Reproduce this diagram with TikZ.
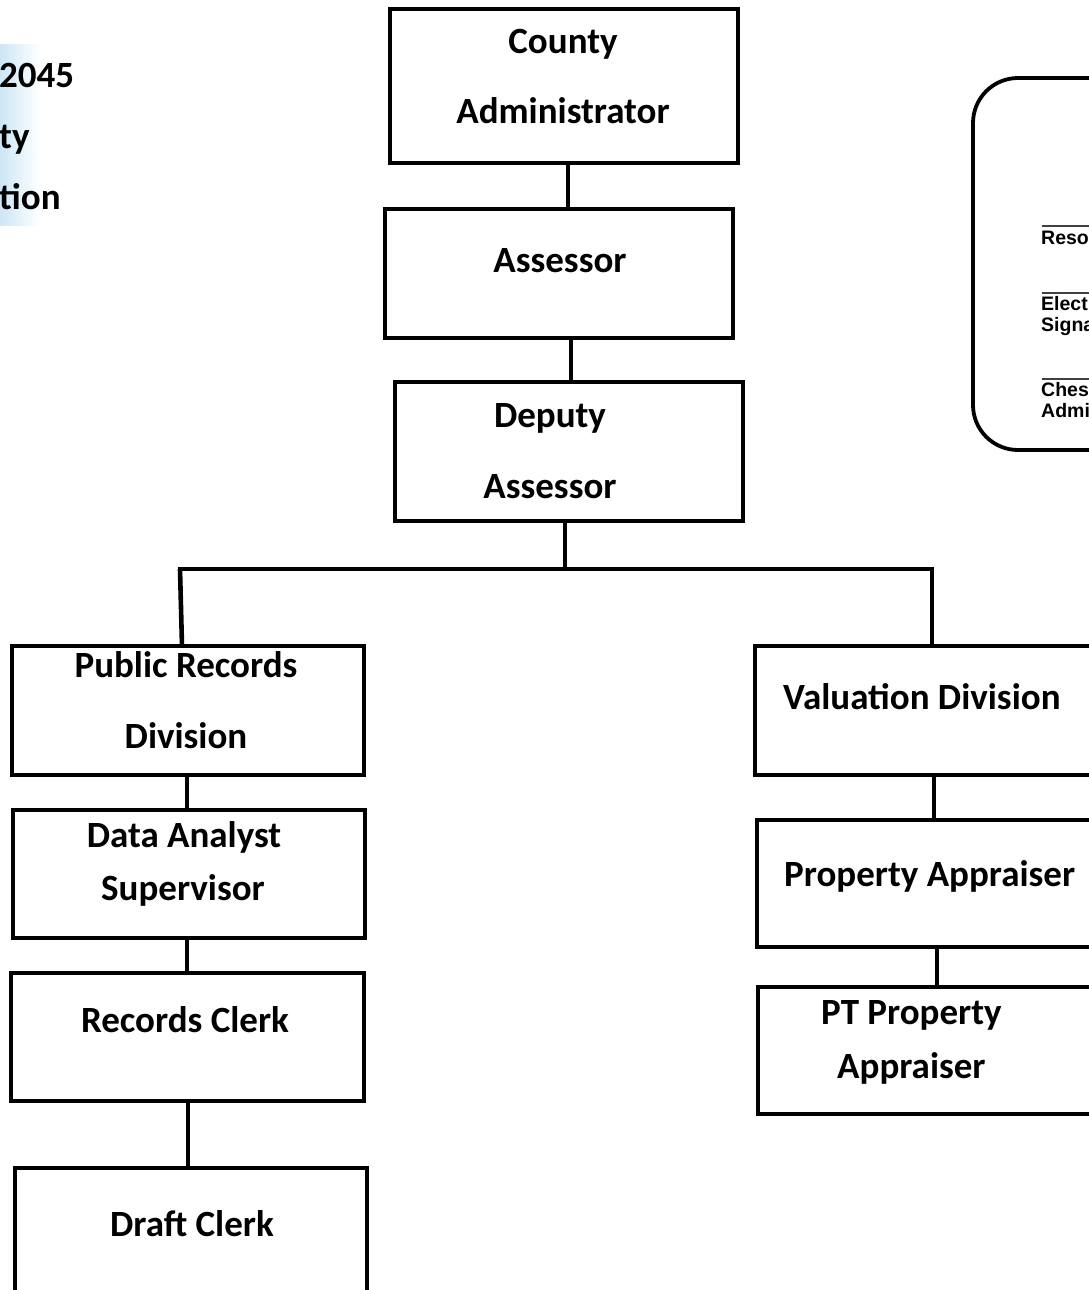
\documentclass[tikz,border=0pt]{standalone}
\usepackage{fontspec}
\setmainfont{Carlito}
\newfontfamily\legendfont{Liberation Sans}
\usetikzlibrary{shadings}
\definecolor{tintblue}{RGB}{205,230,246}
\begin{document}
\begin{tikzpicture}[x=1pt,y=-1pt,
  box/.style={draw=black, line width=4.2pt, fill=white, inner sep=0pt, outer sep=0pt},
  conn/.style={draw=black, line width=4.6pt},
  lbl/.style={font=\fontsize{37}{37}\selectfont\bfseries, inner sep=0pt, anchor=base},
  lbll/.style={lbl, anchor=base west},
  legtxt/.style={font=\legendfont\fontsize{19.5}{19.5}\selectfont\bfseries, inner sep=0pt, anchor=base west},
  rule/.style={draw=black!75, line width=1.8pt}]

\useasboundingbox (0,0) rectangle (1089,1290);
\clip (0,0) rectangle (1089,1290);
\fill[white] (0,0) rectangle (1089,1290);

% faint blue tint along the left edge behind the title
\shade[left color=tintblue, right color=white] (0,45) rectangle (40,225);

% title fragments at the left edge
\node[lbll] (t1) at (-1,87) {2045};
\node[lbll] (t2) at (-1,148) {ty};
\node[lbll] (t3) at (-1,209) {tion};

% legend panel on the right
\node[draw=black, line width=3.8pt, rounded corners=45pt, minimum width=240pt,
      minimum height=372pt, inner sep=0pt] (legend) at (1093,264) {};
\draw[rule] (1042,226) -- (1100,226);
\draw[rule] (1042,293) -- (1100,293);
\draw[rule] (1042,379) -- (1100,379);
\node[legtxt] (l1) at (1041,244) {Reso};
\node[legtxt] (l2) at (1041,310) {Elect};
\node[legtxt] (l3) at (1041,331) {Signa};
\node[legtxt] (l4) at (1041,396) {Ches};
\node[legtxt] (l5) at (1041,417) {Admi};

% top chain
\node[box, minimum width=348pt, minimum height=154pt] (ca) at (564,86) {};
\node[box, minimum width=348pt, minimum height=129pt] (as) at (559,273.5) {};
\node[box, minimum width=348pt, minimum height=139pt] (da) at (569,451.5) {};

\node[lbl] (ca1) at (563,54) {County};
\node[lbl] (ca2) at (563,123) {Administrator};
\node[lbl] (as1) at (560,272) {Assessor};
\node[lbl] (da1) at (550,427) {Deputy};
\node[lbl] (da2) at (550,498) {Assessor};

% left column
\node[box, minimum width=352pt, minimum height=129pt] (pr) at (188,710.5) {};
\node[box, minimum width=352pt, minimum height=128pt] (ds) at (189,874) {};
\node[box, minimum width=353pt, minimum height=128pt] (rc) at (187.5,1037) {};
\node[box, minimum width=352pt, minimum height=150pt] (dc) at (191,1243) {};

\node[lbl] (pr1) at (186,677) {Public Records};
\node[lbl] (pr2) at (186,748) {Division};
\node[lbl] (ds1) at (184,847) {Data Analyst};
\node[lbl] (ds2) at (183,900) {Supervisor};
\node[lbl] (rc1) at (185,1032) {Records Clerk};
\node[lbl] (dc1) at (192,1236) {Draft Clerk};

% right column
\node[box, minimum width=365pt, minimum height=129pt] (vd) at (937.5,710.5) {};
\node[box, minimum width=365pt, minimum height=127pt] (pa) at (939.5,883.5) {};
\node[box, minimum width=365pt, minimum height=127pt] (pt) at (940.5,1050.5) {};

\node[lbll] (vd1) at (783,709) {Valuation Division};
\node[lbll] (pa1) at (784,886) {Property Appraiser};
\node[lbll] (pt1) at (821,1024) {PT Property};
\node[lbll] (pt2) at (837,1078) {Appraiser};

% connectors
\coordinate (busC) at (565,569);
\coordinate (busL) at (180,569);
\coordinate (busR) at (932,569);
\coordinate (lx) at (187,0);
\coordinate (lx2) at (188,0);
\coordinate (rx) at (934,0);
\coordinate (rx2) at (937,0);

\draw[conn] ([xshift=4pt]ca.south) -- ([xshift=9pt]as.north);
\draw[conn] ([xshift=12pt]as.south) -- ([xshift=2pt]da.north);
\draw[conn] ([xshift=-4pt]da.south) -- (busC);
\draw[conn] ([xshift=-2.3pt]busL) -- ([xshift=2.3pt]busR);
\draw[conn] (busL) -- ([xshift=-6pt]pr.north);
\draw[conn] (busR) -- (busR |- vd.north);

\draw[conn] (lx |- pr.south) -- (lx |- ds.north);
\draw[conn] (lx |- ds.south) -- (lx |- rc.north);
\draw[conn] (lx2 |- rc.south) -- (lx2 |- dc.north);

\draw[conn] (rx |- vd.south) -- (rx |- pa.north);
\draw[conn] (rx2 |- pa.south) -- (rx2 |- pt.north);
\end{tikzpicture}
\end{document}
